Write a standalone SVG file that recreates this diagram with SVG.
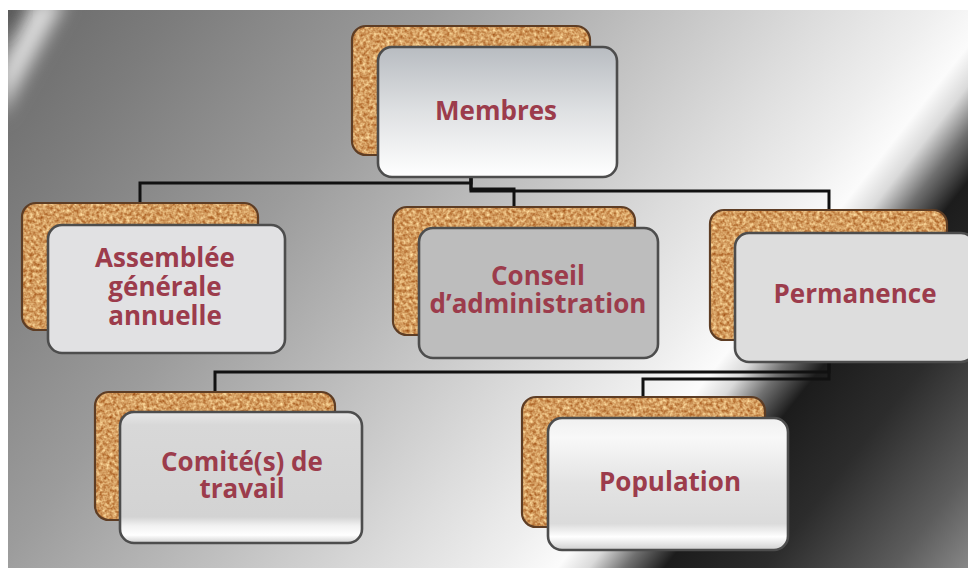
<svg xmlns="http://www.w3.org/2000/svg" width="968" height="568" viewBox="0 0 968 568">
  <defs>
    <!-- chrome backdrop, bands running from upper right to lower left -->
    <linearGradient id="chrome" gradientUnits="userSpaceOnUse" x1="0" y1="0" x2="880" y2="692">
      <stop offset="0" stop-color="#676767"/>
      <stop offset="0.13" stop-color="#7c7c7c"/>
      <stop offset="0.31" stop-color="#9c9c9c"/>
      <stop offset="0.45" stop-color="#bdbdbd"/>
      <stop offset="0.58" stop-color="#dcdcdc"/>
      <stop offset="0.66" stop-color="#eeeeee"/>
      <stop offset="0.705" stop-color="#fbfbfb"/>
      <stop offset="0.727" stop-color="#dadada"/>
      <stop offset="0.752" stop-color="#707070"/>
      <stop offset="0.78" stop-color="#1c1c1c"/>
      <stop offset="0.85" stop-color="#2c2c2c"/>
      <stop offset="0.94" stop-color="#5c5c5c"/>
      <stop offset="1" stop-color="#8c8c8c"/>
    </linearGradient>
    <clipPath id="frame">
      <rect x="8" y="10" width="960" height="558"/>
    </clipPath>
    <filter id="soft" x="-50%" y="-50%" width="200%" height="200%">
      <feGaussianBlur stdDeviation="9"/>
    </filter>

    <!-- cork texture for the back cards -->
    <filter id="cork" x="0" y="0" width="100%" height="100%" color-interpolation-filters="sRGB">
      <feTurbulence type="fractalNoise" baseFrequency="0.3" numOctaves="2" seed="7" result="n"/>
      <feColorMatrix in="n" type="matrix"
        values="0.5 0 0 0 0.58
                0.75 0 0 0 0.24
                0.75 0 0 0 0.0
                0 0 0 0 1" result="c"/>
      <feComposite in="c" in2="SourceGraphic" operator="in"/>
    </filter>

    <!-- front card fills -->
    <linearGradient id="fillMembres" x1="0" y1="0" x2="0" y2="1">
      <stop offset="0" stop-color="#b8bcc1"/>
      <stop offset="0.5" stop-color="#dfe1e3"/>
      <stop offset="1" stop-color="#ffffff"/>
    </linearGradient>
    <linearGradient id="fillBevel" x1="0" y1="0" x2="0" y2="1">
      <stop offset="0" stop-color="#e8e8e8"/>
      <stop offset="0.1" stop-color="#d8d8d8"/>
      <stop offset="0.8" stop-color="#d3d3d3"/>
      <stop offset="0.87" stop-color="#f2f2f2"/>
      <stop offset="0.94" stop-color="#ffffff"/>
      <stop offset="1" stop-color="#cfcfcf"/>
    </linearGradient>
    <linearGradient id="fillGloss" x1="0" y1="0" x2="0" y2="1">
      <stop offset="0" stop-color="#f0f0f0"/>
      <stop offset="0.15" stop-color="#f8f8f8"/>
      <stop offset="0.5" stop-color="#e3e3e3"/>
      <stop offset="0.8" stop-color="#dbdbdb"/>
      <stop offset="0.9" stop-color="#ffffff"/>
      <stop offset="1" stop-color="#cfcfcf"/>
    </linearGradient>

    <style>
      .cork { filter: url(#cork); fill: #d49658; }
      .corkEdge { fill: none; stroke: #5e3d24; stroke-width: 2.2; }
      .card { stroke: #4d4d4d; stroke-width: 2.6; }
      .label { font-family: "Open Sans", "Liberation Sans", sans-serif; font-weight: 700; font-size: 26px; fill: #9c3c4c; text-anchor: middle; }
      .links path { fill: none; stroke: #111111; stroke-width: 3; stroke-linejoin: miter; }
    </style>
  </defs>

  <!-- backdrop -->
  <rect x="0" y="0" width="968" height="568" fill="#ffffff"/>
  <g clip-path="url(#frame)">
    <rect x="8" y="10" width="960" height="558" fill="url(#chrome)"/>
    <polygon points="34,0 66,0 0,118 0,70" fill="#dedede" filter="url(#soft)"/>
    <polygon points="0,0 22,0 0,40" fill="#4e4e4e" filter="url(#soft)"/>
  </g>

  <!-- connectors -->
  <g class="links" id="connectors">
    <path d="M471,155 V183 H140 V203"/>
    <path d="M471,155 V189 H514 V207"/>
    <path d="M471,155 V191 H829 V210"/>
    <path d="M829,340 V372 H215 V392"/>
    <path d="M829,340 V379 H643 V397"/>
  </g>

  <g id="membres">
    <rect class="cork" x="352" y="26" width="238" height="129" rx="14"/>
    <rect class="corkEdge" x="352" y="26" width="238" height="129" rx="14"/>
    <rect class="card" x="378" y="47" width="239" height="130" rx="14" fill="url(#fillMembres)"/>
    <text class="label" x="496" y="120">Membres</text>
  </g>

  <g id="assemblee">
    <rect class="cork" x="22" y="203" width="236" height="127" rx="14"/>
    <rect class="corkEdge" x="22" y="203" width="236" height="127" rx="14"/>
    <rect class="card" x="48" y="225" width="237" height="128" rx="14" fill="#e1e1e3"/>
    <text class="label" x="165" y="267">Assemblée<tspan x="165" dy="29">générale</tspan><tspan x="165" dy="29">annuelle</tspan></text>
  </g>

  <g id="conseil">
    <rect class="cork" x="393" y="207" width="242" height="128" rx="14"/>
    <rect class="corkEdge" x="393" y="207" width="242" height="128" rx="14"/>
    <rect class="card" x="419" y="228" width="239" height="130" rx="14" fill="#bdbdbd"/>
    <text class="label" x="538" y="285">Conseil<tspan x="538" dy="28">d’administration</tspan></text>
  </g>

  <g id="permanence">
    <rect class="cork" x="710" y="210" width="237" height="130" rx="14"/>
    <rect class="corkEdge" x="710" y="210" width="237" height="130" rx="14"/>
    <rect class="card" x="735" y="233" width="240" height="129" rx="14" fill="#dddddd"/>
    <text class="label" x="855" y="303">Permanence</text>
  </g>

  <g id="comite">
    <rect class="cork" x="95" y="392" width="240" height="128" rx="14"/>
    <rect class="corkEdge" x="95" y="392" width="240" height="128" rx="14"/>
    <rect class="card" x="120" y="412" width="242" height="131" rx="14" fill="url(#fillBevel)"/>
    <text class="label" x="242" y="471">Comité(s) de<tspan x="242" dy="27">travail</tspan></text>
  </g>

  <g id="population">
    <rect class="cork" x="522" y="397" width="243" height="130" rx="14"/>
    <rect class="corkEdge" x="522" y="397" width="243" height="130" rx="14"/>
    <rect class="card" x="548" y="418" width="240" height="132" rx="14" fill="url(#fillGloss)"/>
    <text class="label" x="670" y="491">Population</text>
  </g>
</svg>
